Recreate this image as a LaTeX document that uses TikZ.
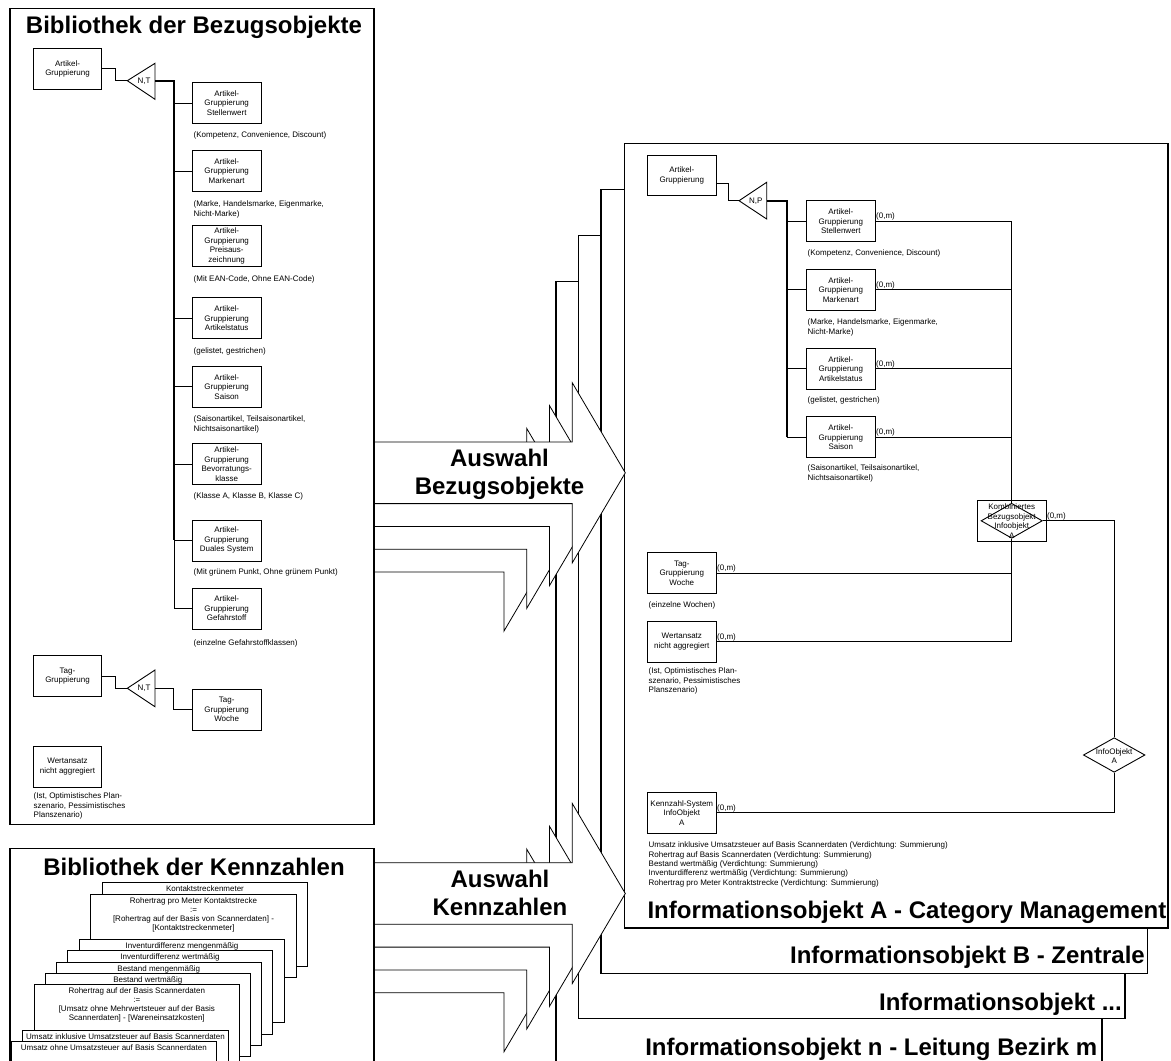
\documentclass[tikz,border=0pt]{standalone}
\usepackage{fontspec}
\setmainfont{Liberation Sans}
\usetikzlibrary{shapes.geometric,calc}
\newcommand\smtxt{\fontsize{8}{9.5}\selectfont}
\newcommand\ttltxt{\fontsize{24}{28}\selectfont\bfseries}
\newcommand\mypfeil[2]{%
  \filldraw[pfeil] (374,#2-30.8) -- (#1,#2-30.8) -- (#1,#2-90) -- (#1+53,#2) -- (#1,#2+90) -- (#1,#2+30.8) -- (374,#2+30.8) -- cycle;}
\tikzset{
  ebox/.style={draw, line width=0.8, fill=white, minimum width=68.4, minimum height=41, inner sep=0, font=\smtxt, align=center},
  captxt/.style={anchor=north west, inner sep=0, font=\smtxt, align=left},
  lbl/.style={inner sep=0, font=\smtxt},
  omlbl/.style={anchor=south west, inner sep=0.6, font=\smtxt},
  conn/.style={line width=0.9},
  trunk/.style={line width=1.6},
  bigbox/.style={draw, fill=white, line width=1.4},
  pfeil/.style={draw, fill=white, line width=0.8},
  cardbox/.style={draw, fill=white, line width=0.8},
  cardtxt/.style={anchor=north, inner sep=0, font=\fontsize{8}{9.2}\selectfont, align=center},
  ttl/.style={inner sep=0, font=\ttltxt},
  diabox/.style={draw, diamond, line width=0.9, inner sep=0}
}
\begin{document}
\begin{tikzpicture}[x=1pt,y=-1pt]
\useasboundingbox (0,0) rectangle (1171,1061);
\fill[white] (0,0) rectangle (1171,1061);

% ---------- Informationsobjekt n ----------
\filldraw[bigbox] (556,281.3) rectangle (1102,1075);
\node[ttl, anchor=east] (tn) at (1097.5,1049.3) {Informationsobjekt n - Leitung Bezirk m};
\mypfeil{503.9}{541.2}
\mypfeil{503.9}{961.9}
% ---------- Informationsobjekt ... ----------
\filldraw[bigbox] (578.5,235.3) rectangle (1125,1018.3);
\node[ttl, anchor=east] (td) at (1122,1004.3) {Informationsobjekt ...};
\mypfeil{526.7}{518.4}
\mypfeil{526.7}{939.1}
% ---------- Informationsobjekt B ----------
\filldraw[bigbox] (601,189.3) rectangle (1147.5,973.3);
\node[ttl, anchor=east] (tb) at (1145,957.3) {Informationsobjekt B - Zentrale};
\mypfeil{549.5}{495.6}
\mypfeil{549.5}{916.3}
% ---------- Informationsobjekt A ----------
\filldraw[bigbox] (624.5,143.3) rectangle (1168,928);
\node[ttl, anchor=east] (ta) at (1166.5,912.3) {Informationsobjekt A - Category Management};

\node[ebox, minimum height=40.7] (ag2) at (681.8,175.3) {Artikel-\\Gruppierung};
\coordinate (t3a) at (739,200.7);
\coordinate (t3b) at (766.7,200.7);
\draw[conn] (t3a) -- (766.7,182.3) -- (766.7,219) -- cycle;
\node[lbl] (t3l) at (755.7,201) {N,P};
\draw[conn] ($(ag2.east)+(0,8)$) -- ++(11.6,0) |- (t3a);

\node[ebox] (sw2) at (840.8,221.2) {Artikel-\\Gruppierung\\Stellenwert};
\node[ebox] (ma2) at (840.8,289.7) {Artikel-\\Gruppierung\\Markenart};
\node[ebox] (as2) at (840.8,368.8) {Artikel-\\Gruppierung\\Artikelstatus};
\node[ebox] (sa2) at (840.8,437.2) {Artikel-\\Gruppierung\\Saison};
\draw[trunk] (t3b) -- ++(20,0) coordinate (tr2) -- (tr2 |- sa2.west);
\foreach \nn in {sw2,ma2,as2,sa2} \draw[conn] (tr2 |- \nn.west) -- (\nn.west);

\node[captxt] (csw2) at (807.5,249.5) {(Kompetenz, Convenience, Discount)};
\node[captxt] (cma2) at (807.5,318.5) {(Marke, Handelsmarke, Eigenmarke,\\Nicht-Marke)};
\node[captxt] (cas2) at (807.5,396.8) {(gelistet, gestrichen)};
\node[captxt] (csa2) at (807.5,464.5) {(Saisonartikel, Teilsaisonartikel,\\Nichtsaisonartikel)};

\node[ebox] (kbr) at (1011.7,521.2) {Kombiniertes\\Bezugsobjekt\\Infoobjekt\\A};
\node[diabox, minimum width=61.3, minimum height=35] (kbd) at (1011.7,520.8) {};
\foreach \nn in {sw2,ma2,as2,sa2} {
  \draw[conn] (\nn.east) -- (\nn.east -| kbd.north);
  \node[omlbl] at (\nn.east) {(0,m)};
}
\draw[conn] (sw2.east -| kbd.north) -- (kbd.north);

\node[ebox] (tw2) at (681.8,573.2) {Tag-\\Gruppierung\\Woche};
\node[ebox] (wa2) at (681.8,641.5) {Wertansatz\\nicht aggregiert};
\node[captxt] (ctw2) at (648.5,601.1) {(einzelne Wochen)};
\node[captxt] (cwa2) at (648.5,667.8) {(Ist, Optimistisches Plan-\\szenario, Pessimistisches\\Planszenario)};
\draw[conn] (kbd.south) -- (wa2.east -| kbd.south) -- (wa2.east);
\draw[conn] (tw2.east) -- (tw2.east -| kbd.south);
\node[omlbl] (omtw) at (tw2.east) {(0,m)};
\node[omlbl] (omwa) at (wa2.east) {(0,m)};
\node[omlbl] (omkb) at (kbr.east) {(0,m)};

\node[diabox, minimum width=61.6, minimum height=34.6] (iod) at (1114.2,755) {};
\node[lbl, align=center] (iodt) at (1114.2,756) {InfoObjekt\\A};
\draw[conn] (kbd.east) -| (iod.north);
\node[ebox] (kz) at (681.8,812.8) {Kennzahl-System\\InfoObjekt\\A};
\draw[conn] (iod.south) |- (kz.east);
\node[omlbl] (omkz) at (kz.east) {(0,m)};
\node[captxt, font=\fontsize{8}{9.3}\selectfont] (ckz) at (648.5,841.8) {Umsatz inklusive Umsatzsteuer auf Basis Scannerdaten (Verdichtung: Summierung)\\Rohertrag auf Basis Scannerdaten (Verdichtung: Summierung)\\Bestand wertmäßig (Verdichtung: Summierung)\\Inventurdifferenz wertmäßig (Verdichtung: Summierung)\\Rohertrag pro Meter Kontraktstrecke (Verdichtung: Summierung)};

% front arrows
\mypfeil{572.3}{472.8}
\mypfeil{572.3}{893.5}
\node[ttl, align=center] (aw1) at (499.5,474.4) {Auswahl\\Bezugsobjekte};
\node[ttl, align=center] (aw2) at (500,892.5) {Auswahl\\Kennzahlen};

% ---------- Bibliothek der Bezugsobjekte ----------
\filldraw[bigbox] (10,8.3) rectangle (374,824.5);
\node[ttl] (lt) at (194,27.3) {Bibliothek der Bezugsobjekte};
\node[ebox] (ag1) at (67.5,68.8) {Artikel-\\Gruppierung};
\coordinate (t1a) at (127.3,80.7);
\coordinate (t1b) at (155,80.7);
\draw[conn] (t1a) -- (155,63.3) -- (155,99.3) -- cycle;
\node[lbl] (t1l) at (144,81) {N,T};
\draw[conn] (ag1.east) -- ++(13.3,0) |- (t1a);

\node[ebox] (sw1) at (226.7,103) {Artikel-\\Gruppierung\\Stellenwert};
\node[ebox] (ma1) at (226.7,171) {Artikel-\\Gruppierung\\Markenart};
\node[ebox] (pa1) at (226.7,245.8) {Artikel-\\Gruppierung\\Preisaus-\\zeichnung};
\node[ebox] (as1) at (226.7,318.3) {Artikel-\\Gruppierung\\Artikelstatus};
\node[ebox] (sa1) at (226.7,386.7) {Artikel-\\Gruppierung\\Saison};
\node[ebox] (bv1) at (226.7,464.2) {Artikel-\\Gruppierung\\Bevorratungs-\\klasse};
\node[ebox] (ds1) at (226.7,540.4) {Artikel-\\Gruppierung\\Duales System};
\node[ebox] (gs1) at (226.7,608.5) {Artikel-\\Gruppierung\\Gefahrstoff};
\draw[trunk] (t1b) -- ++(19,0) coordinate (tr1) -- (tr1 |- ds1.west);
\draw[conn] (tr1 |- ds1.west) -- (tr1 |- gs1.west);
\foreach \nn in {sw1,ma1,as1,sa1,bv1,ds1,gs1} \draw[conn] (tr1 |- \nn.west) -- (\nn.west);

\node[captxt] (csw1) at (193.5,131.8) {(Kompetenz, Convenience, Discount)};
\node[captxt] (cma1) at (193.5,200.8) {(Marke, Handelsmarke, Eigenmarke,\\Nicht-Marke)};
\node[captxt] (cpa1) at (193.5,275.8) {(Mit EAN-Code, Ohne EAN-Code)};
\node[captxt] (cas1) at (193.5,347.8) {(gelistet, gestrichen)};
\node[captxt] (csa1) at (193.5,415.8) {(Saisonartikel, Teilsaisonartikel,\\Nichtsaisonartikel)};
\node[captxt] (cbv1) at (193.5,492.8) {(Klasse A, Klasse B, Klasse C)};
\node[captxt] (cds1) at (193.5,568.8) {(Mit grünem Punkt, Ohne grünem Punkt)};
\node[captxt] (cgs1) at (193.5,639.5) {(einzelne Gefahrstoffklassen)};

\node[ebox] (tg1) at (67.5,676) {Tag-\\Gruppierung};
\coordinate (t2a) at (127.3,688.3);
\coordinate (t2b) at (155,688.3);
\draw[conn] (t2a) -- (155,670) -- (155,706.7) -- cycle;
\node[lbl] (t2l) at (144,688.6) {N,T};
\draw[conn] (tg1.east) -- ++(13.3,0) |- (t2a);
\node[ebox] (tw1) at (226.7,709.6) {Tag-\\Gruppierung\\Woche};
\draw[conn] (t2b) -- ++(18.5,0) |- (tw1.west);
\node[ebox] (wa1) at (67.5,766.4) {Wertansatz\\nicht aggregiert};
\node[captxt] (cwa1) at (33.5,792.8) {(Ist, Optimistisches Plan-\\szenario, Pessimistisches\\Planszenario)};

% ---------- Bibliothek der Kennzahlen ----------
\filldraw[bigbox] (10,848.3) rectangle (374,1075);
\node[ttl] (kt) at (194,867.3) {Bibliothek der Kennzahlen};
\filldraw[cardbox] (102.3,882.7) rectangle ++(205.5,83.3);
\node[cardtxt] (k1) at (205,885.7) {Kontaktstreckenmeter};
\filldraw[cardbox] (90.7,894) rectangle ++(205.5,83.3);
\node[cardtxt] (k2) at (193.5,897) {Rohertrag pro Meter Kontaktstrecke\\:=\\[0pt][Rohertrag auf der Basis von Scannerdaten] -\\[0pt][Kontaktstreckenmeter]};
\filldraw[cardbox] (79.3,939.3) rectangle ++(205.5,83.3);
\node[cardtxt] (k3) at (182,942.3) {Inventurdifferenz mengenmäßig};
\filldraw[cardbox] (67.3,950.7) rectangle ++(205.5,83.3);
\node[cardtxt] (k4) at (170,953.7) {Inventurdifferenz wertmäßig};
\filldraw[cardbox] (56,962) rectangle ++(205.5,83.3);
\node[cardtxt] (k5) at (158.8,965) {Bestand mengenmäßig};
\filldraw[cardbox] (45,973.3) rectangle ++(205.5,83.3);
\node[cardtxt] (k6) at (147.8,976.3) {Bestand wertmäßig};
\filldraw[cardbox] (34,984.3) rectangle ++(205.5,83.3);
\node[cardtxt] (k7) at (136.8,987.3) {Rohertrag auf der Basis Scannerdaten\\:=\\[0pt][Umsatz ohne Mehrwertsteuer auf der Basis\\Scannerdaten] - [Wareneinsatzkosten]};
\filldraw[cardbox] (22.7,1030) rectangle ++(205.5,83.3);
\node[cardtxt] (k8) at (125.5,1033) {Umsatz inklusive Umsatzsteuer auf Basis Scannerdaten};
\filldraw[cardbox] (11,1041) rectangle ++(205.5,83.3);
\node[cardtxt] (k9) at (113.8,1044) {Umsatz ohne Umsatzsteuer auf Basis Scannerdaten};
\end{tikzpicture}
\end{document}
